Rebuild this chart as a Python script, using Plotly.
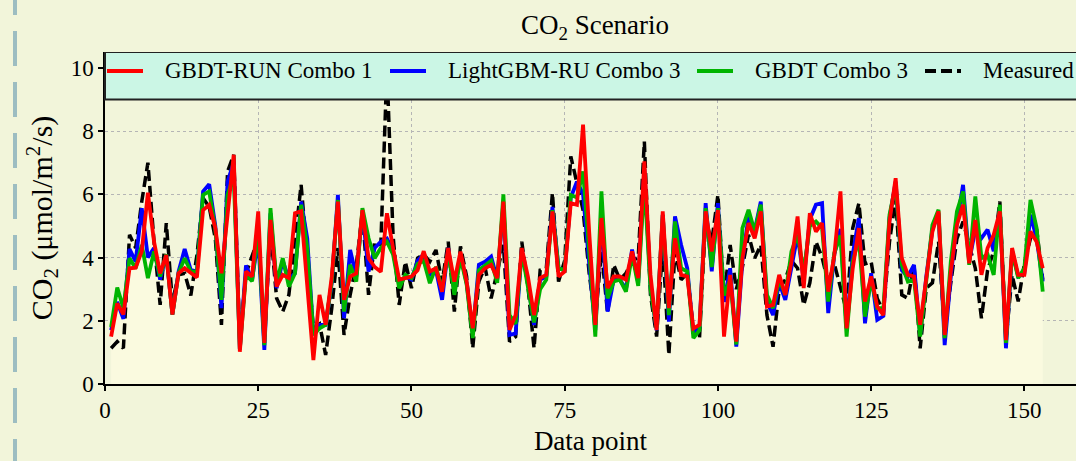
import numpy as np
import plotly.graph_objects as go

# ---- data -------------------------------------------------------------
data_point = list(range(1, 154))

gbdt_run_combo1 = [
    1.5, 2.55, 2.2, 3.66, 3.68, 4.2, 6.05, 4.5, 3.5, 4.08,
    2.2, 3.5, 3.66, 3.5, 3.37, 5.5, 5.67, 4.93, 3.5, 5.35,
    7.25, 1.02, 3.56, 3.4, 5.46, 1.3, 5.19, 3.08, 3.45, 3.35,
    5.4, 5.46, 3.0, 0.76, 2.82, 1.87, 3.4, 5.77, 2.66, 3.4,
    3.5, 5.5, 3.98, 3.7, 3.55, 5.4, 4.3, 3.3, 3.35, 3.4,
    3.6, 4.2, 3.56, 3.66, 2.92, 4.3, 3.24, 4.19, 3.24, 1.76,
    3.45, 3.66, 3.77, 3.35, 5.77, 1.71, 2.18, 4.3, 3.4, 2.18,
    3.35, 3.45, 5.46, 3.4, 3.56, 5.72, 5.67, 8.2, 4.8, 1.87,
    5.25, 3.03, 3.4, 3.4, 3.3, 4.19, 3.35, 7.04, 3.45, 1.71,
    5.46, 2.4, 4.61, 3.45, 3.4, 1.76, 1.87, 5.46, 4.19, 5.5,
    1.5, 3.45, 1.34, 3.98, 5.09, 4.61, 5.46, 2.45, 2.5, 3.45,
    2.82, 3.87, 5.3, 3.03, 5.4, 4.82, 5.09, 2.92, 4.08, 6.09,
    1.76, 3.66, 4.93, 2.61, 3.4, 2.45, 2.18, 5.14, 6.51, 3.98,
    3.45, 3.4, 1.87, 3.45, 4.82, 5.46, 1.55, 3.56, 5.03, 5.67,
    3.82, 5.19, 3.45, 4.3, 4.72, 5.46, 1.39, 4.3, 3.45, 3.45,
    4.82, 4.5, 3.66,
]

lightgbm_ru_combo3 = [
    1.7, 2.6, 2.06, 4.27, 3.87, 5.56, 4.0, 4.3, 3.3, 4.1,
    2.2, 3.55, 4.27, 3.6, 3.56, 6.09, 6.32, 5.0, 2.4, 6.4,
    7.0, 1.1, 3.75, 3.3, 4.6, 1.08, 5.4, 3.03, 3.9, 3.3,
    3.5, 5.77, 4.6, 1.55, 1.87, 1.87, 3.2, 5.98, 2.08, 4.24,
    3.4, 5.45, 3.56, 4.3, 4.5, 4.6, 4.2, 3.15, 3.4, 3.3,
    3.9, 4.1, 3.45, 3.6, 2.66, 4.3, 2.9, 4.1, 3.2, 1.6,
    3.77, 3.87, 4.03, 3.3, 5.65, 1.55, 1.6, 4.25, 3.2, 1.87,
    3.3, 3.4, 5.6, 3.66, 3.6, 5.9, 6.4, 6.0, 3.8, 1.7,
    5.3, 2.29, 3.3, 3.3, 3.0, 4.25, 3.2, 6.8, 3.1, 1.7,
    5.35, 1.97, 5.3, 4.4, 3.66, 1.6, 1.8, 5.72, 3.56, 5.72,
    2.6, 3.66, 1.18, 3.9, 5.3, 4.85, 5.77, 2.6, 2.18, 3.2,
    2.66, 3.7, 4.72, 3.3, 5.2, 5.67, 5.72, 2.24, 4.1, 4.9,
    1.76, 4.1, 5.25, 1.92, 3.5, 2.03, 2.15, 5.25, 6.4, 3.6,
    3.4, 3.77, 1.55, 3.4, 4.9, 5.4, 1.23, 3.4, 5.1, 6.3,
    3.87, 4.9, 4.61, 4.88, 4.2, 5.55, 1.13, 4.2, 3.4, 3.5,
    5.35, 4.6, 3.24,
]

gbdt_combo3 = [
    1.8, 3.05, 2.4, 3.98, 3.66, 4.4, 3.35, 4.19, 3.4, 4.1,
    2.2, 3.5, 3.98, 3.55, 3.56, 5.98, 6.09, 4.9, 2.66, 5.98,
    6.6, 1.1, 3.45, 3.25, 4.9, 1.23, 5.56, 3.2, 3.98, 3.08,
    3.5, 5.67, 4.3, 1.55, 1.76, 1.87, 3.25, 5.82, 2.29, 3.77,
    3.24, 5.56, 4.61, 3.98, 4.3, 4.5, 4.1, 3.03, 3.45, 3.35,
    3.8, 3.9, 3.19, 3.7, 3.0, 4.2, 2.82, 4.0, 3.15, 1.45,
    3.6, 3.75, 3.9, 3.2, 6.0, 2.18, 1.9, 4.2, 3.0, 1.95,
    3.0, 3.3, 5.5, 3.66, 3.6, 5.98, 5.9, 6.72, 4.2, 1.5,
    6.09, 2.71, 3.24, 3.3, 2.92, 4.1, 3.1, 6.4, 3.0, 1.76,
    5.35, 2.18, 5.14, 3.66, 3.56, 1.45, 1.7, 5.56, 3.7, 5.56,
    2.8, 3.3, 1.25, 4.93, 5.51, 4.82, 5.67, 2.82, 2.4, 3.3,
    2.82, 4.19, 4.72, 3.55, 5.0, 5.14, 4.93, 2.61, 4.15, 4.7,
    1.5, 3.87, 4.6, 2.13, 3.3, 2.4, 2.4, 5.35, 6.3, 3.77,
    3.24, 3.3, 1.5, 3.24, 5.03, 5.51, 1.45, 3.87, 5.46, 6.09,
    3.77, 5.93, 3.98, 4.1, 3.45, 5.67, 1.3, 4.2, 3.35, 3.66,
    5.82, 4.93, 2.92,
]

measured = [
    1.13, 1.34, 1.13, 4.72, 4.3, 5.77, 7.0, 4.5, 2.5, 5.09,
    2.6, 3.45, 3.5, 2.8, 4.08, 5.88, 5.6, 4.6, 1.87, 6.72,
    7.25, 1.3, 3.5, 4.08, 4.6, 1.4, 4.9, 2.71, 2.29, 2.82,
    4.6, 6.3, 4.0, 1.76, 1.9, 0.92, 2.4, 4.3, 1.55, 2.82,
    3.77, 5.4, 2.82, 4.5, 4.4, 10.0, 4.7, 2.5, 3.87, 3.03,
    3.98, 4.1, 3.87, 4.24, 3.2, 4.5, 2.29, 4.35, 3.4, 1.13,
    3.24, 3.7, 2.71, 3.5, 4.4, 1.34, 1.5, 4.5, 3.1, 1.13,
    3.6, 3.66, 6.04, 3.24, 3.9, 7.2, 6.4, 5.5, 3.5, 2.0,
    4.2, 2.24, 3.77, 3.3, 3.5, 3.9, 4.0, 7.67, 2.82, 1.5,
    4.4, 0.92, 4.2, 3.3, 3.5, 1.7, 1.45, 5.2, 4.5, 5.98,
    2.8, 4.4, 3.0, 3.7, 4.72, 3.98, 4.4, 2.18, 1.18, 3.0,
    3.3, 3.9, 3.66, 2.5, 3.2, 4.5, 4.0, 3.2, 3.8, 3.03,
    2.3, 4.93, 5.72, 3.8, 3.87, 2.7, 2.3, 4.5, 5.88, 2.82,
    2.71, 3.77, 1.13, 3.03, 3.2, 4.5, 1.7, 3.2, 4.6, 5.14,
    4.4, 3.66, 2.08, 3.6, 4.2, 5.77, 1.4, 3.45, 2.61, 3.8,
    4.61, 4.9, 3.3,
]

x_ticks = [0, 25, 50, 75, 100, 125, 150]
y_ticks = [0, 2, 4, 6, 8, 10]

# ---- styling ----------------------------------------------------------
FONT = "Liberation Serif, Times New Roman, serif"
BG = "#f2f5da"
FILL_BG = "#fafadf"
LEGEND_BG = "#cbf6e5"

W, H = 1076, 461
ML, MR, MT, MB = 105, 0, 52, 77
PX_PER_X = 6.129
X_MAX = (W - ML - MR) / PX_PER_X
Y_MAX = 10.5

fig = go.Figure()

# light band under the upper envelope of all curves
envelope = np.max(np.array([gbdt_run_combo1, lightgbm_ru_combo3,
                            gbdt_combo3, measured]), axis=0)
fig.add_trace(go.Scatter(
    x=data_point, y=envelope, mode="lines", fill="tozeroy",
    fillcolor=FILL_BG, line=dict(width=0), hoverinfo="skip",
    showlegend=False,
))

fig.add_trace(go.Scatter(
    x=data_point, y=measured, mode="lines", name="Measured",
    line=dict(color="black", width=3.5, dash="11px,5px"), showlegend=False,
))
for name, vals, col in [
    ("LightGBM-RU Combo 3", lightgbm_ru_combo3, "#0000ff"),
    ("GBDT Combo 3", gbdt_combo3, "#00b400"),
    ("GBDT-RUN Combo 1", gbdt_run_combo1, "#ff0000"),
]:
    fig.add_trace(go.Scatter(
        x=data_point, y=vals, mode="lines", name=name,
        line=dict(color=col, width=3.8), showlegend=False,
    ))


def px_to_paper(px):
    return (px - ML) / (W - ML - MR)


shapes = []
# legend frame across the top of the axes
shapes.append(dict(
    type="rect", xref="paper", yref="y", x0=0, x1=1.01, y0=9.0, y1=Y_MAX,
    fillcolor=LEGEND_BG, line=dict(color="#222222", width=2), layer="above",
))

legend_items = [
    ("GBDT-RUN Combo 1", "#ff0000", "solid", 107, 163),
    ("LightGBM-RU Combo 3", "#0000ff", "solid", 390, 446),
    ("GBDT Combo 3", "#00b400", "solid", 697, 753),
    ("Measured", "black", "11px,5px", 925, 981),
]
annotations = []
LEG_Y = 9.9
for label, col, dash, lx, tx in legend_items:
    shapes.append(dict(
        type="line", xref="paper", yref="y",
        x0=px_to_paper(lx), x1=px_to_paper(lx + 36), y0=LEG_Y, y1=LEG_Y,
        line=dict(color=col, width=4, dash=dash), layer="above",
    ))
    annotations.append(dict(
        xref="paper", yref="y", x=px_to_paper(tx), y=LEG_Y,
        xanchor="left", yanchor="middle", text=label, showarrow=False,
        font=dict(family=FONT, size=23, color="black"),
    ))

# decorative dashed rule at the left edge of the page
plot_h = H - MT - MB
shapes.append(dict(
    type="line", xref="paper", yref="paper",
    x0=px_to_paper(15), x1=px_to_paper(15),
    y0=(H - MB + 20) / plot_h, y1=-(MB + 30) / plot_h,
    line=dict(color="#9dbdc1", width=4, dash="35px,16px"), layer="above",
))

axis_common = dict(
    showline=True, linecolor="black", linewidth=1.5,
    ticks="outside", ticklen=5, tickwidth=1.5, tickcolor="black",
    showgrid=True, gridcolor="#b5b5b5", gridwidth=1, griddash="dot",
    zeroline=False, tickfont=dict(family=FONT, size=23, color="black"),
)

fig.update_layout(
    width=W, height=H,
    margin=dict(l=ML, r=MR, t=MT, b=MB, pad=0),
    paper_bgcolor=BG, plot_bgcolor=BG,
    showlegend=False,
    title=dict(
        text="CO<sub>2</sub> Scenario", x=px_to_paper(595), xref="paper",
        xanchor="center", y=1 - 25 / H, yref="container", yanchor="middle",
        font=dict(family=FONT, size=27, color="black"),
    ),
    xaxis=dict(
        range=[0, X_MAX], tickvals=x_ticks,
        title=dict(text="Data point", standoff=9,
                   font=dict(family=FONT, size=27, color="black")),
        **axis_common,
    ),
    yaxis=dict(
        range=[0, Y_MAX], tickvals=y_ticks,
        title=dict(text="CO<sub>2</sub> (μmol/m<sup>2</sup>/s)", standoff=9,
                   font=dict(family=FONT, size=30, color="black")),
        **axis_common,
    ),
    shapes=shapes,
    annotations=annotations,
)

fig.write_html("out.html")
